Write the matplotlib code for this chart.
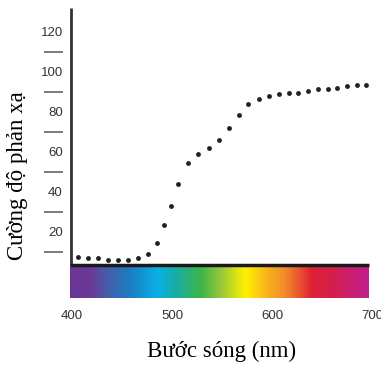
import numpy as np
import matplotlib
matplotlib.use("Agg")
import matplotlib.pyplot as plt
from matplotlib.colors import LinearSegmentedColormap

# reflectance points
wavelength = [406, 416, 426, 436, 446, 456, 466, 476, 485, 492, 499, 506, 516, 526,
              537, 547, 557, 567, 576, 587, 597, 607, 617, 626, 636, 646, 656, 665,
              675, 685, 694]
reflect = [7.6, 6.8, 7.0, 6.0, 6.0, 6.0, 7.0, 8.8, 14.7, 23.5, 33.0, 44.0, 54.3, 59.2,
           61.8, 65.8, 72.0, 78.5, 84.2, 86.7, 88.2, 88.8, 89.3, 89.7, 90.5, 91.5, 91.7,
           91.8, 92.8, 93.3, 93.7]

ytick_vals = [20, 40, 60, 80, 100, 120]
ymark_vals = [10, 30, 50, 70, 90, 110]
xtick_vals = [400, 500, 600, 700]

# spectrum colour stops (wavelength, colour)
spec_nm = [398, 418, 433, 458, 485, 503, 528, 548, 573, 593, 613, 628, 640, 660, 683, 696]
spec_col = ["#6a3696", "#6a3a97", "#4a5aa8", "#1a7fc2", "#0ab0e8", "#17ada6", "#3cb54a",
            "#95c73c", "#fff200", "#f9b81b", "#f28a2a", "#e8502f", "#e01f36", "#d41f4a",
            "#c81e7a", "#c0208a"]

fig = plt.figure(figsize=(3.81, 3.66), dpi=100)
W, H = 381, 366
ax = fig.add_axes([67 / W, (H - 304) / H, 310 / W, 300 / H])
ax.set_xlim(395, 705)
ax.set_ylim(-16, 134)
for s in ax.spines.values():
    s.set_visible(False)

# colour bar under the axis
pos = [(n - spec_nm[0]) / (spec_nm[-1] - spec_nm[0]) for n in spec_nm]
cmap = LinearSegmentedColormap.from_list("spec", list(zip(pos, spec_col)))
grad = np.linspace(0, 1, 400).reshape(1, -1)
ax.imshow(grad, cmap=cmap, aspect="auto", extent=(397.5, 696.5, -13, 2.8), zorder=1)

# axis lines
ax.vlines(399, 3.5, 132, color="#333333", lw=2, zorder=3)
ax.hlines(3.6, 398, 697, color="#1a1a1a", lw=2.5, zorder=3)
# detached tick marks left of the axis
ax.hlines(ymark_vals, 372, 391, color="#666666", lw=1.2, clip_on=False)

ax.plot(wavelength, reflect, "o", color="#222222", ms=3.5, mec="none", zorder=4)

ax.set_yticks(ytick_vals)
ax.set_xticks(xtick_vals)
ax.tick_params(length=0, labelsize=9.5, labelcolor="#333333")
ax.tick_params(axis="y", pad=3)
ax.tick_params(axis="x", pad=4)
for lab in ax.get_xticklabels() + ax.get_yticklabels():
    lab.set_family("Liberation Sans")

ax.set_xlabel("Bước sóng (nm)", family="Liberation Serif", fontsize=16.5, labelpad=14)
fig.text(18 / W, 1 - 176 / H, "Cường độ phản xạ", family="Liberation Serif",
         fontsize=16.5, rotation=90, ha="center", va="center")

fig.savefig("out.png", dpi=100)
